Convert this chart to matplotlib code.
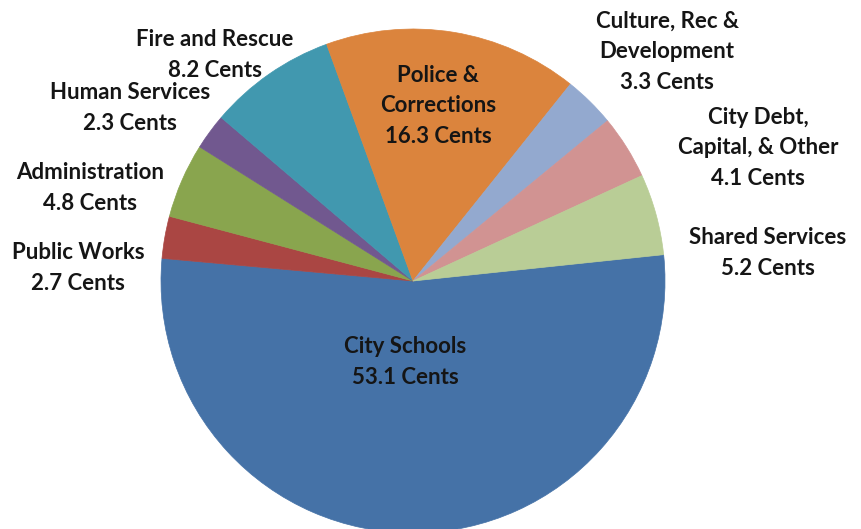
import matplotlib.pyplot as plt

# slices in clockwise order, starting with City Schools
categories = ["City Schools", "Public Works", "Administration", "Human Services",
              "Fire and Rescue", "Police &\nCorrections", "Culture, Rec &\nDevelopment",
              "City Debt,\nCapital, & Other", "Shared Services"]
cents = [53.1, 2.7, 4.8, 2.3, 8.2, 16.3, 3.3, 4.1, 5.2]
colors = ["#4572A7", "#AA4643", "#89A54E", "#71588F", "#4198AF",
          "#DB843D", "#93A9CF", "#D19392", "#B9CD96"]

# label centres in pixels from the top-left corner
label_pos = [(405, 362), (78, 268), (90, 188), (130, 108), (215, 55),
             (438, 106), (667, 52), (758, 148), (768, 253)]

W, H = 861, 529
fig = plt.figure(figsize=(W / 100, H / 100), dpi=100)
ax = fig.add_axes([0, 0, 1, 1])

ax.pie(cents, colors=colors, startangle=6, counterclock=False,
       center=(413, H - 281), radius=252, frame=True,
       wedgeprops=dict(linewidth=0.5))
for w, c in zip(ax.patches, colors):
    w.set_edgecolor(c)
ax.set_xlim(0, W)
ax.set_ylim(0, H)
ax.set_aspect('equal')
ax.axis('off')

for name, val, (x, y) in zip(categories, cents, label_pos):
    ax.text(x, H - y, f"{name}\n{val} Cents", ha='center', va='center',
            fontsize=16, fontweight='bold', family='Lato', color='#151515',
            linespacing=1.55)

fig.savefig("out.png", dpi=100)
